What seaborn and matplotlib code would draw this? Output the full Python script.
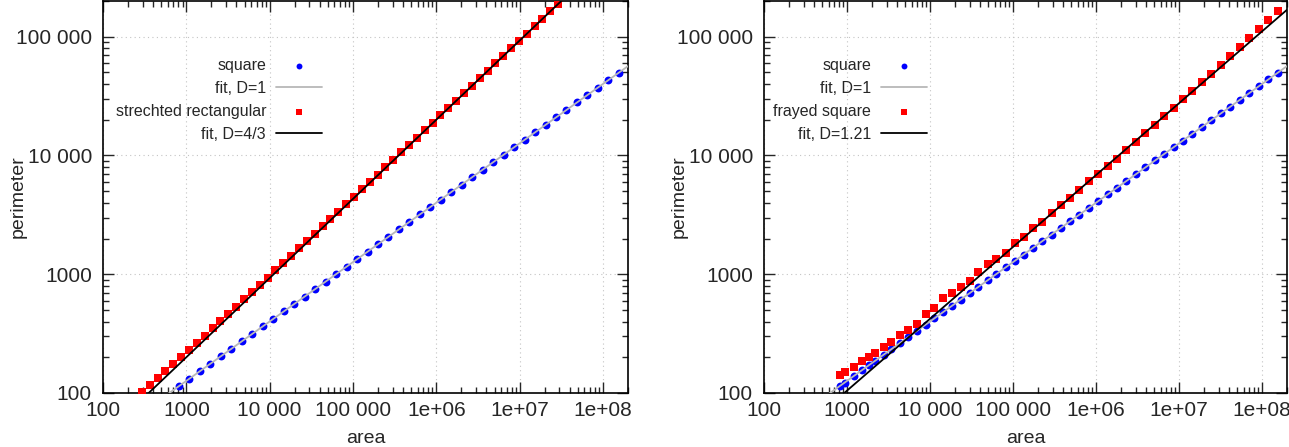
import numpy as np
import matplotlib
matplotlib.use("Agg")
import matplotlib.pyplot as plt
import matplotlib.ticker as mticker
import seaborn as sns

# ---- data (log-log) ----
# left panel: square vs stretched rectangle
sq_area = [817, 1091, 1457, 1947, 2600, 3473, 4638, 6195, 8274, 11046, 14762,
           19712, 26341, 35194, 47002, 62750, 83810, 111957, 149537, 199720,
           266772, 356290, 475824, 635528, 848794, 1133799, 1514376, 2022653,
           2701421, 3608100, 4819342, 6436876, 8597210, 11482610, 15336622,
           20483771, 27359176, 36542025, 48807990, 65189476, 87067561,
           116294656, 155326369]
sq_perim = [114, 132, 153, 176, 204, 236, 272, 315, 364, 420, 486, 562, 649,
            750, 867, 1002, 1158, 1338, 1547, 1788, 2066, 2388, 2759, 3189,
            3685, 4259, 4922, 5689, 6574, 7598, 8781, 10148, 11728, 13554,
            15665, 18104, 20922, 24180, 27945, 32296, 37324, 43136, 49852]

rect_area = [293, 364, 452, 562, 698, 868, 1078, 1339, 1664, 2068, 2570, 3192,
             3965, 4926, 6121, 7604, 9448, 11738, 14583, 18117, 22509, 27964,
             34746, 43170, 53634, 66633, 82786, 102859, 127794, 158771, 197257,
             245076, 304480, 378290, 470000, 583930, 725490, 901350, 1119900,
             1391360, 1728500, 2147700, 2668300, 3315100, 4118900, 5117500,
             6358100, 7899500, 9814300, 12193000, 15150000, 18823000,
             23385000, 29054000]
rect_perim = [101.5, 116.3, 133.2, 152.7, 175.2, 201.0, 230.7, 265.0, 304.5,
              350.1, 402.6, 463.0, 532.7, 613.0, 705.8, 812.7, 936.1, 1078.5,
              1242.7, 1432.1, 1650.9, 1903.3, 2194.9, 2531.4, 2919.8, 3368.3,
              3886.2, 4484.3, 5174.9, 5972.5, 6893.6, 7957.6, 9186.4, 10606,
              12245, 14140, 16328, 18855, 21776, 25149, 29046, 33550, 38754,
              44764, 51711, 59737, 69011, 79726, 92108, 106414, 122947,
              142050, 164124, 189633]

# right panel: square vs frayed square (same areas)
fr_area = [817, 938, 1202, 1500, 1837, 2188, 2754, 3404, 4365, 5495, 7047,
           8872, 11272, 14454, 18365, 23335, 30200, 38371, 49659, 63096,
           81658, 104713, 134276, 172187, 224905, 291072, 376704, 487529,
           630957, 816582, 1056800, 1380400, 1786500, 2312100, 3020000,
           3944600, 5152300, 6668100, 8629800, 11169000, 14454000, 18707000,
           24434000, 31915000, 41305000, 53951000, 69823000, 91201000,
           119120000, 154170000]
fr_sq_perim = [114.3, 122.5, 138.7, 154.9, 171.4, 187.1, 209.9, 233.3, 264.2,
               296.5, 335.7, 376.7, 424.6, 480.8, 542.0, 611.0, 695.0, 783.4,
               891.3, 1004.6, 1142.9, 1294.2, 1465.5, 1659.6, 1896.8, 2157.7,
               2454.7, 2792.5, 3176.9, 3614.1, 4111.5, 4698.9, 5345.6, 6081.1,
               6950.2, 7943.3, 9078.1, 10328, 11749, 13366, 15205, 17298,
               19770, 22594, 25704, 29376, 33420, 38194, 43652, 49659]
fr_perim = [140.9, 149.3, 165.6, 184.9, 200.9, 217.3, 245.5, 269.2, 306.2,
            339.6, 381.1, 463.4, 520.0, 631.0, 699.8, 781.6, 873.0, 1039.9,
            1227.4, 1336.6, 1520.5, 1845.0, 2074.9, 2471.7, 2741.6, 3265.9,
            3863.7, 4395.4, 5128.6, 6109.4, 6998.4, 8165.9, 9418.6, 11143,
            13092, 15417, 18197, 21429, 25177, 29785, 35237, 41687, 48978,
            58345, 69024, 82224, 97275, 115878, 138038, 164437]

# fit lines (end points over the full x range)
fit_area = [100, 2e8]
fit_d1 = [40, 56569]
fit_d43 = [43.1, 683990]
fit_d121 = [26.0, 168700]

XLIM = (100, 2e8)
YLIM = (100, 2e5)

sns.set_style("ticks")
plt.rcParams["font.family"] = ["Liberation Sans", "DejaVu Sans"]

fig = plt.figure(figsize=(12.89, 4.47), dpi=100)
ax1 = fig.add_axes([103 / 1289, 54 / 447, 525 / 1289, 392 / 447])
ax2 = fig.add_axes([764 / 1289, 54 / 447, 523 / 1289, 392 / 447])


def fmt(v, pos=None):
    if v >= 1e6:
        return "1e+%02d" % int(round(np.log10(v)))
    if v >= 1e4:
        return "{:,}".format(int(round(v))).replace(",", " ")
    return str(int(round(v)))


def draw(ax, a_blue, p_blue, a_red, p_red, fit_red, red_label, fit_label, leg_x):
    ax.set_xscale("log")
    ax.set_yscale("log")
    sns.scatterplot(x=a_blue, y=p_blue, ax=ax, color="#0000ff", marker="o",
                    s=32, linewidth=0, label="square", zorder=2)
    sns.lineplot(x=fit_area, y=fit_d1, ax=ax, color="#b8b8b8", lw=1.3,
                 label="fit, D=1", zorder=3)
    sns.scatterplot(x=a_red, y=p_red, ax=ax, color="#ff0000", marker="s",
                    s=36, linewidth=0, label=red_label, zorder=4)
    sns.lineplot(x=fit_area, y=fit_red, ax=ax, color="black", lw=1.3,
                 label=fit_label, zorder=5)
    ax.set_xlim(*XLIM)
    ax.set_ylim(*YLIM)

    for axis in (ax.xaxis, ax.yaxis):
        axis.set_major_locator(mticker.LogLocator(base=10, numticks=20))
        axis.set_minor_locator(mticker.LogLocator(base=10, subs=range(2, 10), numticks=100))
        axis.set_major_formatter(mticker.FuncFormatter(fmt))
        axis.set_minor_formatter(mticker.NullFormatter())
    ax.tick_params(which="both", direction="in", top=True, right=True,
                   width=1.0, labelsize=15)
    ax.tick_params(which="major", length=8)
    ax.tick_params(which="minor", length=4)
    ax.tick_params(axis="x", pad=6)
    ax.tick_params(axis="y", pad=8)
    ax.grid(True, which="major", color="#c4c4c4", linestyle=(0, (1, 3)), lw=0.8)
    ax.set_axisbelow(True)
    for sp in ax.spines.values():
        sp.set_linewidth(1.2)
        sp.set_color("black")

    ax.set_xlabel("area", fontsize=14)
    ax.set_ylabel("perimeter", fontsize=14)
    ax.xaxis.set_label_coords(0.5, -0.095)
    ax.yaxis.set_label_coords(-0.145, 0.5)

    h, l = ax.get_legend_handles_labels()
    ax.legend(h, l, loc="upper right", bbox_to_anchor=(leg_x, 0.855),
              frameon=False, markerfirst=False, scatterpoints=1,
              markerscale=0.75, fontsize=11.5, handlelength=2.9,
              handletextpad=0.6, labelspacing=0.5, borderpad=0,
              borderaxespad=0)


draw(ax1, sq_area, sq_perim, rect_area, rect_perim, fit_d43,
     "strechted rectangular", "fit, D=4/3", 0.417)
draw(ax2, fr_area, fr_sq_perim, fr_area, fr_perim, fit_d121,
     "frayed square", "fit, D=1.21", 0.312)

fig.savefig("out.png", dpi=100)
